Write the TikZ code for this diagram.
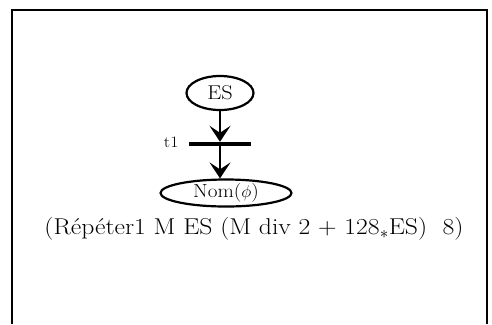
\documentclass[tikz,border=0pt]{standalone}
\usepackage{fontspec}
\setmainfont{Latin Modern Roman}[FakeStretch=1.12]
\usetikzlibrary{shapes.geometric,arrows.meta}
\begin{document}
\begin{tikzpicture}[
    x=1bp, y=-1bp,
    place/.style={draw, ellipse, line width=2.2bp, inner sep=0pt},
    trans/.style={fill=black, rectangle, minimum width=62bp, minimum height=4bp, inner sep=0pt},
    arc/.style={-{Stealth[length=16bp, width=21bp, inset=7bp]}, line width=2.5bp}
]
\useasboundingbox (0,0) rectangle (492,324);

% Frame (open at the bottom)
\draw[line width=2bp] (12,324) -- (12,10) -- (487,10) -- (487,324);

% Places and transition
\node[place, minimum width=67bp, minimum height=34bp, font=\fontsize{20}{20}\selectfont] (ES) at (220,93) {ES};
\node[trans] (t1) at (220,144) {};
\node[anchor=east, font=\fontsize{16}{16}\selectfont] (t1lab) at (182,142) {t1};
\node[place, minimum width=131bp, minimum height=27bp, font=\fontsize{19}{19}\selectfont] (Nom) at (226,193) {Nom($\phi$)};

% Arcs
\draw[arc] (ES) -- (t1);
\draw[arc] (t1) -- (t1 |- Nom.north);

% Expression
\node[font=\fontsize{23}{23}\selectfont] (expr) at (254,229) {(Répéter1 M ES (M div 2 + 128$_*$ES)~~8)};

\end{tikzpicture}
\end{document}
